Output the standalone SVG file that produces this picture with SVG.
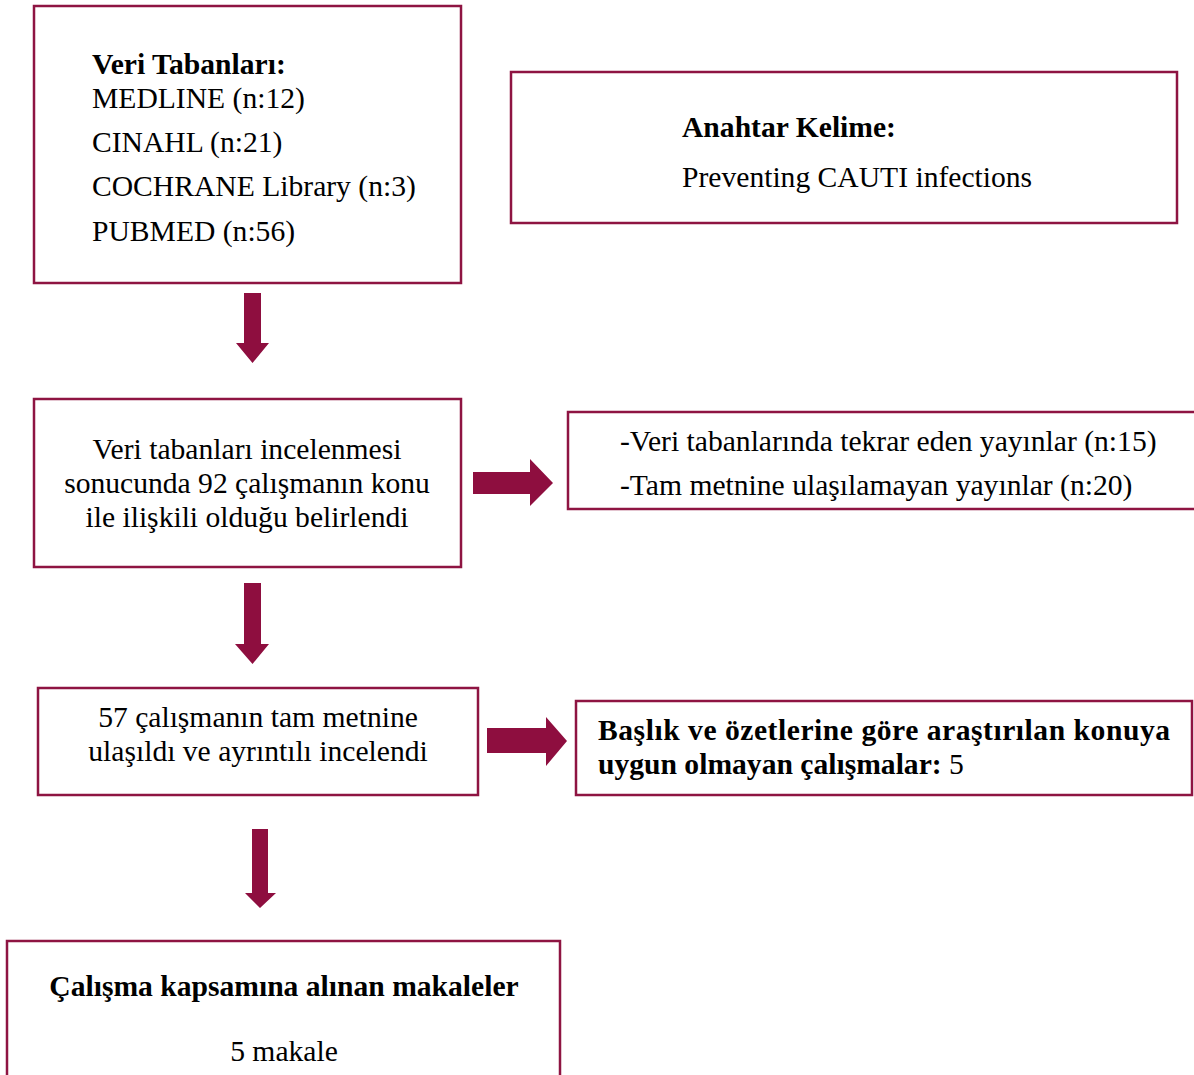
<svg xmlns="http://www.w3.org/2000/svg" width="1194" height="1075" viewBox="0 0 1194 1075">
<style>
.box{fill:#fff;stroke:#8E1442;stroke-width:2.5}
.arr{fill:#8E0E3F}
text{font-family:"Liberation Serif","Times New Roman",serif;font-size:29.6px;fill:#000}
.b{font-weight:bold}
.c{text-anchor:middle}
</style>
<rect width="1194" height="1075" fill="#fff"/>
<g id="connectors">
<polygon class="arr" points="244,293 261,293 261,343 269,343 252.5,363 236,343 244,343"/>
<polygon class="arr" points="244,583 261,583 261,644 269,644 252.5,664 235,644 244,644"/>
<polygon class="arr" points="252,829 268,829 268,893 276,893 260,908 245,893 252,893"/>
<polygon class="arr" points="473,472 530,472 530,459 553,483 530,506 530,494 473,494"/>
<polygon class="arr" points="487,728 546,728 546,717 567,741 546,766 546,753 487,753"/>
</g>
<g id="databases">
<rect class="box" x="34" y="6" width="427" height="277"/>
<text class="b" x="92" y="74">Veri Tabanları:</text>
<text x="92" y="108">MEDLINE (n:12)</text>
<text x="92" y="152">CINAHL (n:21)</text>
<text x="92" y="196">COCHRANE Library (n:3)</text>
<text x="92" y="241">PUBMED (n:56)</text>
</g>
<g id="keyword">
<rect class="box" x="511" y="72" width="666" height="151"/>
<text class="b" x="682" y="137">Anahtar Kelime:</text>
<text x="682" y="187">Preventing CAUTI infections</text>
</g>
<g id="review">
<rect class="box" x="34" y="399" width="427" height="168"/>
<text class="c" x="247" y="459">Veri tabanları incelenmesi</text>
<text class="c" x="247" y="493">sonucunda 92 çalışmanın konu</text>
<text class="c" x="247" y="527">ile ilişkili olduğu belirlendi</text>
</g>
<g id="excluded1">
<rect class="box" x="568" y="412" width="630" height="97"/>
<text x="620" y="451">-Veri tabanlarında tekrar eden yayınlar (n:15)</text>
<text x="620" y="495">-Tam metnine ulaşılamayan yayınlar (n:20)</text>
</g>
<g id="fulltext">
<rect class="box" x="38" y="688" width="440" height="107"/>
<text class="c" x="258" y="727">57 çalışmanın tam metnine</text>
<text class="c" x="258" y="761">ulaşıldı ve ayrıntılı incelendi</text>
</g>
<g id="excluded2">
<rect class="box" x="576" y="701" width="616" height="94"/>
<text class="b" x="598" y="740" textLength="572" lengthAdjust="spacing">Başlık ve özetlerine göre araştırılan konuya</text>
<text x="598" y="774"><tspan class="b">uygun olmayan çalışmalar:</tspan> 5</text>
</g>
<g id="included">
<rect class="box" x="7" y="941" width="553" height="140"/>
<text class="b c" x="284" y="996">Çalışma kapsamına alınan makaleler</text>
<text class="c" x="284" y="1061">5 makale</text>
</g>
</svg>
